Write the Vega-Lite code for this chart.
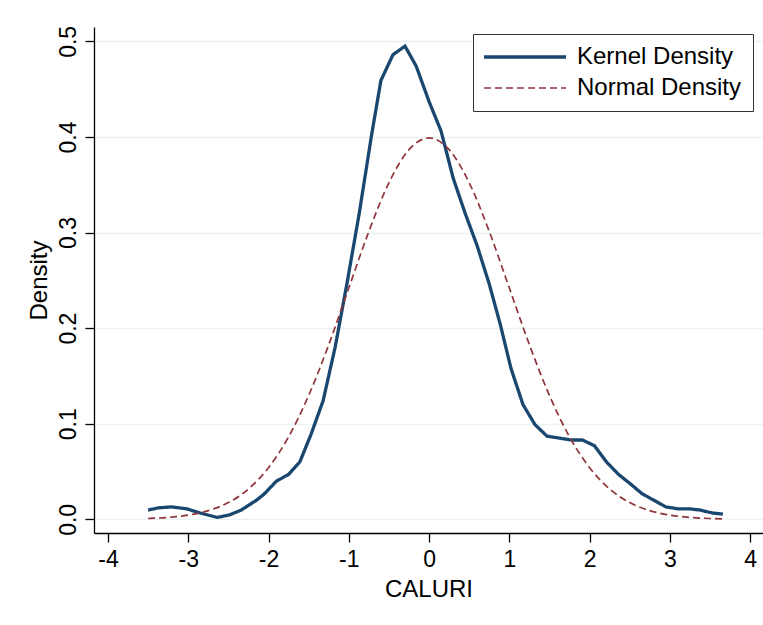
{
  "$schema": "https://vega.github.io/schema/vega-lite/v6.json",
  "width": 669,
  "height": 506,
  "autosize": {"type": "none"},
  "padding": {"left": 94, "top": 27, "right": 0, "bottom": 92},
  "background": "white",
  "config": {
    "font": "Liberation Sans",
    "view": {"stroke": null},
    "axis": {"labelFont": "Liberation Sans", "titleFont": "Liberation Sans", "labelColor": "black", "titleColor": "black", "domainColor": "black", "tickColor": "black", "titleFontWeight": "normal"}
  },
  "datasets": {
    "kernel": [
      {"x": -3.5, "y": 0.0097}, {"x": -3.37, "y": 0.012}, {"x": -3.21, "y": 0.013}, {"x": -3.02, "y": 0.011},
      {"x": -2.85, "y": 0.0066}, {"x": -2.64, "y": 0.002}, {"x": -2.49, "y": 0.0045}, {"x": -2.34, "y": 0.0097},
      {"x": -2.15, "y": 0.02}, {"x": -2.06, "y": 0.026}, {"x": -1.9, "y": 0.04}, {"x": -1.75, "y": 0.047},
      {"x": -1.61, "y": 0.06}, {"x": -1.47, "y": 0.089}, {"x": -1.32, "y": 0.124}, {"x": -1.17, "y": 0.18},
      {"x": -1.02, "y": 0.248}, {"x": -0.87, "y": 0.32}, {"x": -0.72, "y": 0.4}, {"x": -0.6, "y": 0.459},
      {"x": -0.45, "y": 0.486}, {"x": -0.3, "y": 0.495}, {"x": -0.16, "y": 0.474}, {"x": 0.0, "y": 0.437},
      {"x": 0.15, "y": 0.406}, {"x": 0.3, "y": 0.357}, {"x": 0.45, "y": 0.32}, {"x": 0.6, "y": 0.286},
      {"x": 0.75, "y": 0.246}, {"x": 0.89, "y": 0.203}, {"x": 1.02, "y": 0.158}, {"x": 1.17, "y": 0.12},
      {"x": 1.32, "y": 0.099}, {"x": 1.47, "y": 0.087}, {"x": 1.62, "y": 0.085}, {"x": 1.77, "y": 0.083},
      {"x": 1.91, "y": 0.083}, {"x": 2.06, "y": 0.077}, {"x": 2.21, "y": 0.06}, {"x": 2.36, "y": 0.047},
      {"x": 2.51, "y": 0.037}, {"x": 2.65, "y": 0.027}, {"x": 2.8, "y": 0.02}, {"x": 2.95, "y": 0.013},
      {"x": 3.1, "y": 0.011}, {"x": 3.24, "y": 0.011}, {"x": 3.38, "y": 0.0097}, {"x": 3.53, "y": 0.0066},
      {"x": 3.66, "y": 0.0055}
    ],
    "normal": [
      {"x": -3.5, "y": 0.00087}, {"x": -3.25, "y": 0.00203}, {"x": -3.0, "y": 0.00443}, {"x": -2.75, "y": 0.00909},
      {"x": -2.5, "y": 0.01753}, {"x": -2.25, "y": 0.03174}, {"x": -2.0, "y": 0.05399}, {"x": -1.75, "y": 0.08628},
      {"x": -1.5, "y": 0.12952}, {"x": -1.25, "y": 0.18265}, {"x": -1.0, "y": 0.24197}, {"x": -0.75, "y": 0.30114},
      {"x": -0.5, "y": 0.35207}, {"x": -0.25, "y": 0.38667}, {"x": 0.0, "y": 0.39894}, {"x": 0.25, "y": 0.38667},
      {"x": 0.5, "y": 0.35207}, {"x": 0.75, "y": 0.30114}, {"x": 1.0, "y": 0.24197}, {"x": 1.25, "y": 0.18265},
      {"x": 1.5, "y": 0.12952}, {"x": 1.75, "y": 0.08628}, {"x": 2.0, "y": 0.05399}, {"x": 2.25, "y": 0.03174},
      {"x": 2.5, "y": 0.01753}, {"x": 2.75, "y": 0.00909}, {"x": 3.0, "y": 0.00443}, {"x": 3.25, "y": 0.00203},
      {"x": 3.5, "y": 0.00087}, {"x": 3.66, "y": 0.00049}
    ]
  },
  "encoding": {
    "x": {
      "field": "x", "type": "quantitative",
      "scale": {"domain": [-4.174, 4.16], "nice": false, "zero": false},
      "axis": {"values": [-4, -3, -2, -1, 0, 1, 2, 3, 4], "labelExpr": "datum.value < 0 ? '-' + abs(datum.value) : '' + datum.value", "title": "CALURI", "grid": false, "tickSize": 9, "labelFontSize": 23, "titleFontSize": 24, "labelPadding": 6, "titlePadding": 6, "labelFlush": false, "domainWidth": 1.3, "tickWidth": 1.3}
    },
    "y": {
      "field": "y", "type": "quantitative",
      "scale": {"domain": [-0.0143, 0.515], "nice": false, "zero": false},
      "axis": {"values": [0, 0.1, 0.2, 0.3, 0.4, 0.5], "format": ".1f", "title": "Density", "grid": true, "gridColor": "#eaf2f3", "gridWidth": 1.5, "tickSize": 9, "labelAngle": -90, "labelAlign": "center", "labelBaseline": "bottom", "labelFontSize": 23, "titleFontSize": 24, "labelPadding": 5, "titlePadding": 6, "labelFlush": false, "domainWidth": 1.3, "tickWidth": 1.3}
    },
    "color": {
      "field": "series", "type": "nominal",
      "scale": {"domain": ["Kernel Density", "Normal Density"], "range": ["#1a476f", "#90353b"]},
      "legend": {
        "title": null, "orient": "none", "legendX": 379, "legendY": 7,
        "strokeColor": "#333333", "fillColor": "white", "padding": 11,
        "labelFontSize": 24, "labelColor": "black", "labelFont": "Liberation Sans", "labelLimit": 400,
        "symbolType": "M-1.2,0L7,0", "symbolSize": 400, "rowPadding": 7, "labelOffset": 69
      }
    },
    "strokeDash": {
      "field": "series", "type": "nominal",
      "scale": {"domain": ["Kernel Density", "Normal Density"], "range": [[1, 0], [7, 4]]}
    },
    "strokeWidth": {
      "field": "series", "type": "nominal",
      "scale": {"domain": ["Kernel Density", "Normal Density"], "range": [3.3, 1.7]}
    }
  },
  "layer": [
    {
      "data": {"name": "kernel"},
      "transform": [{"calculate": "'Kernel Density'", "as": "series"}],
      "mark": {"type": "line"}
    },
    {
      "data": {"name": "normal"},
      "transform": [{"calculate": "'Normal Density'", "as": "series"}],
      "mark": {"type": "line", "interpolate": "monotone"}
    }
  ]
}
